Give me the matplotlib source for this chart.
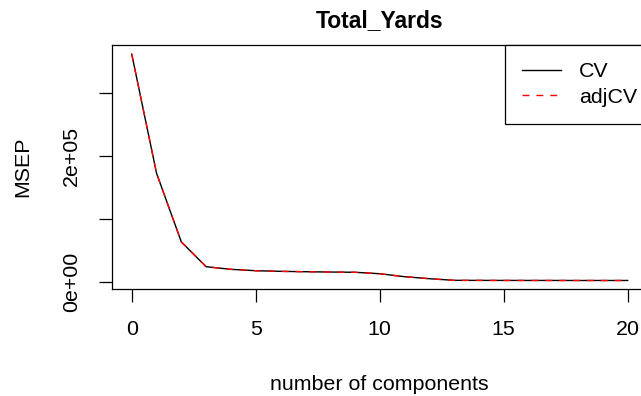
import matplotlib
matplotlib.use('Agg')
import matplotlib.pyplot as plt
import numpy as np

# values (MSEP vs number of components)
components = list(range(21))
cv = [362100, 172600, 63300, 23900, 19700, 17500, 16500, 15900, 15400, 15000,
      12700, 8000, 4800, 2200, 2100, 2050, 2000, 2000, 1950, 1950, 1950]
adjcv = [362000, 172500, 63200, 23800, 19650, 17450, 16450, 15850, 15350, 14950,
         12650, 7950, 4750, 2150, 2050, 2000, 1950, 1950, 1900, 1900, 1900]
xticks = [0, 5, 10, 15, 20]
yticks = [0, 100000, 200000, 300000]
yticklabels = ['0e+00', '', '2e+05', '']

plt.rcParams['font.family'] = ['Liberation Sans', 'DejaVu Sans']

fig = plt.figure(figsize=(6.41, 3.96), dpi=100)
# R style box, the right edge runs past the figure
ax = fig.add_axes([111.9 / 641, 107 / 396, 535.6 / 641, 244 / 396])

ax.plot(components, cv, color='black', lw=1.0, label='CV')
ax.plot(components, adjcv, color='red', lw=1.0, linestyle=(0, (5, 5)), label='adjCV')

ax.set_xlim(-0.8, 20.8)
ax.set_ylim(-11600, 376600)
ax.set_xticks(xticks)
ax.set_yticks(yticks)
ax.set_yticklabels(yticklabels, rotation=90, va='center')
ax.tick_params(direction='out', length=9.4, width=0.9, labelsize=15.4, pad=13)
for s in ax.spines.values():
    s.set_linewidth(0.9)

ax.set_title('Total_Yards', fontsize=16.5, fontweight='bold', pad=13)
ax.set_xlabel('number of components', fontsize=15.4)
ax.set_ylabel('MSEP', fontsize=15.4)
ax.xaxis.set_label_coords(0.5, -0.353)
ax.yaxis.set_label_coords(-0.149, 0.5)

leg = ax.legend(loc='upper right', bbox_to_anchor=(1.0125, 1), borderaxespad=0,
                fontsize=15.4, fancybox=False, edgecolor='black', framealpha=1,
                handlelength=1.82, handletextpad=0.86, labelspacing=0.3,
                borderpad=0.8)
leg.get_frame().set_linewidth(0.9)

plt.savefig('out.png', dpi=100)
